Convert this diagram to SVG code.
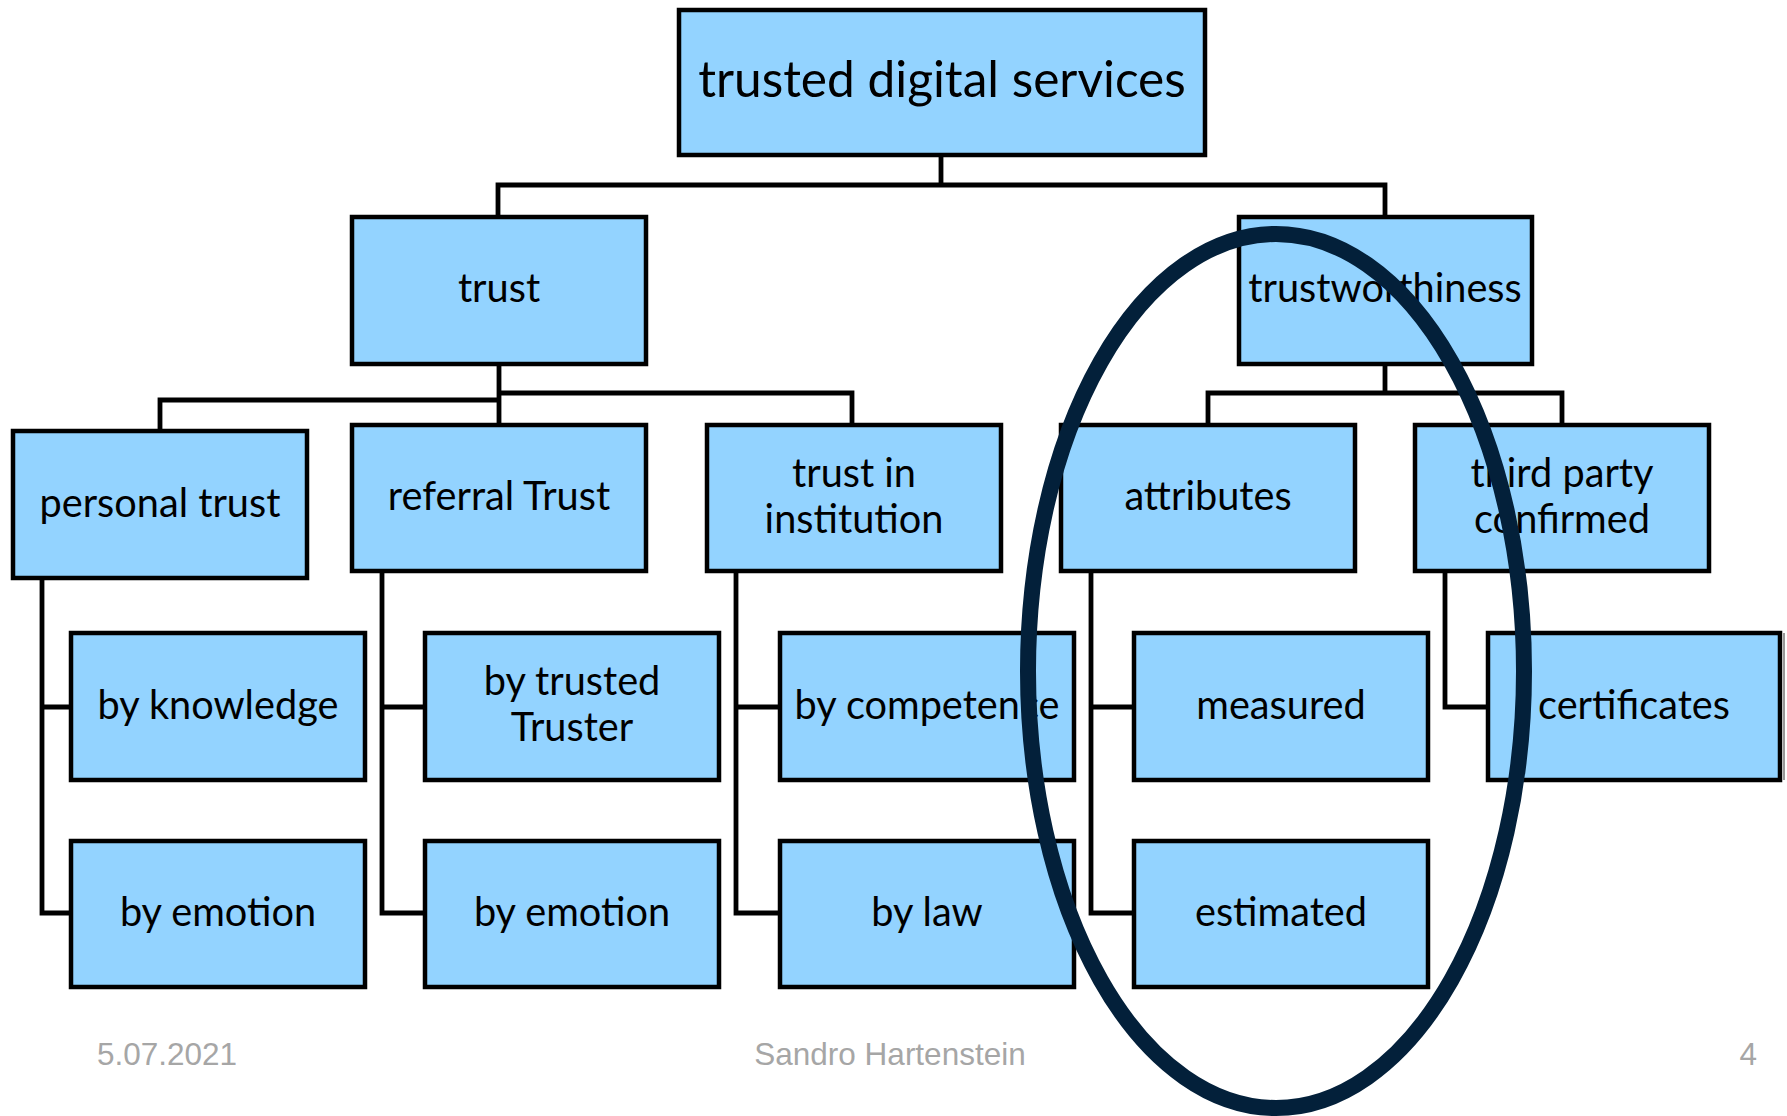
<svg xmlns="http://www.w3.org/2000/svg" width="1787" height="1116" viewBox="0 0 1787 1116">
<style>
.box{fill:#93d3ff;stroke:#000;stroke-width:4.5}
.t{font-family:Lato,"Open Sans",sans-serif;font-size:39.7px;fill:#000;text-anchor:middle}
.big{font-size:49.6px}
.con{fill:none;stroke:#000;stroke-width:4.8;stroke-linejoin:miter;stroke-linecap:square}
.foot{font-family:"Liberation Sans",Arial,sans-serif;font-size:31.5px;fill:#a6a6a6}
</style>
<rect width="1787" height="1116" fill="#fff"/>
<g id="connectors">
<path class="con" d="M941 155V185M498 217V185H1385V217"/>
<path class="con" d="M499 364V425M160 431V400H499M499 393H852V425"/>
<path class="con" d="M1385 364V393M1208 425V393H1562V425"/>
<path class="con" d="M42 578V913H71M42 707H71"/>
<path class="con" d="M382 571V913H425M382 707H425"/>
<path class="con" d="M736 571V913H780M736 707H780"/>
<path class="con" d="M1091 571V913H1134M1091 707H1134"/>
<path class="con" d="M1445 571V707H1488"/>
</g>
<g id="n-root"><rect class="box" x="679" y="10" width="526" height="145"/><text class="t big" x="942" y="97">trusted digital services</text></g>
<g id="n-trust"><rect class="box" x="352" y="217" width="294" height="147"/><text class="t" x="499" y="302">trust</text></g>
<g id="n-trustworthiness"><rect class="box" x="1239" y="217" width="293" height="147"/><text class="t" x="1385" y="302">trustworthiness</text></g>
<g id="n-personal"><rect class="box" x="13" y="431" width="294" height="147"/><text class="t" x="160" y="517">personal trust</text></g>
<g id="n-referral"><rect class="box" x="352" y="425" width="294" height="146"/><text class="t" x="499" y="510">referral Trust</text></g>
<g id="n-institution"><rect class="box" x="707" y="425" width="294" height="146"/><text class="t" x="854" y="487">trust in</text><text class="t" x="854" y="533">institution</text></g>
<g id="n-attributes"><rect class="box" x="1061" y="425" width="294" height="146"/><text class="t" x="1208" y="510">attributes</text></g>
<g id="n-thirdparty"><rect class="box" x="1415" y="425" width="294" height="146"/><text class="t" x="1562" y="487">third party</text><text class="t" x="1562" y="533">confirmed</text></g>
<g id="n-knowledge"><rect class="box" x="71" y="633" width="294" height="147"/><text class="t" x="218" y="719">by knowledge</text></g>
<g id="n-emotion1"><rect class="box" x="71" y="841" width="294" height="146"/><text class="t" x="218" y="926">by emotion</text></g>
<g id="n-truster"><rect class="box" x="425" y="633" width="294" height="147"/><text class="t" x="572" y="695">by trusted</text><text class="t" x="572" y="741">Truster</text></g>
<g id="n-emotion2"><rect class="box" x="425" y="841" width="294" height="146"/><text class="t" x="572" y="926">by emotion</text></g>
<g id="n-competence"><rect class="box" x="780" y="633" width="294" height="147"/><text class="t" x="927" y="719">by competence</text></g>
<g id="n-law"><rect class="box" x="780" y="841" width="294" height="146"/><text class="t" x="927" y="926">by law</text></g>
<g id="n-measured"><rect class="box" x="1134" y="633" width="294" height="147"/><text class="t" x="1281" y="719">measured</text></g>
<g id="n-estimated"><rect class="box" x="1134" y="841" width="294" height="146"/><text class="t" x="1281" y="926">estimated</text></g>
<g id="n-certificates"><rect class="box" x="1488" y="633" width="292" height="147"/><line x1="1784" y1="633" x2="1784" y2="780" stroke="#777" stroke-width="1.5"/><text class="t" x="1634" y="719">certificates</text></g>
<g id="highlight"><ellipse cx="1276" cy="671" rx="248" ry="437" fill="none" stroke="#03203a" stroke-width="16"/></g>
<g id="footer">
<text class="foot" x="97" y="1065">5.07.2021</text>
<text class="foot" x="890" y="1065" text-anchor="middle">Sandro Hartenstein</text>
<text class="foot" x="1757" y="1065" text-anchor="end">4</text>
</g>
</svg>
